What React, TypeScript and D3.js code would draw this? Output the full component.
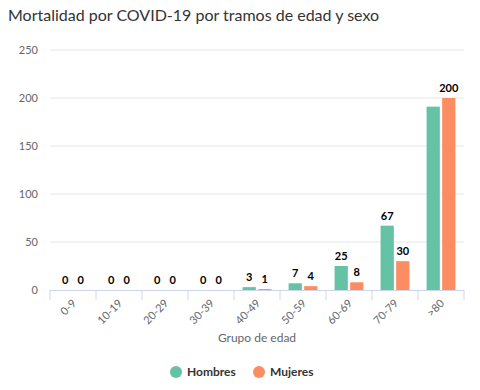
import React from "react";
import * as d3 from "d3";

const categories = ["0-9", "10-19", "20-29", "30-39", "40-49", "50-59", "60-69", "70-79", ">80"];
const hombres = [0, 0, 0, 0, 3, 7, 25, 67, 191];
const mujeres = [0, 0, 0, 0, 1, 4, 8, 30, 200];
const hombresLabelShown = [true, true, true, true, true, true, true, true, false];
const yTicks = [0, 50, 100, 150, 200, 250];
const seriesNames = ["Hombres", "Mujeres"];
const colors = ["#66c2a5", "#fc8d62"];

const W = 480, H = 390;
const left = 50, right = 464, top = 50, bottom = 290;

export default function App() {
  const x = d3.scaleBand<string>().domain(categories).range([left, right]).paddingInner(0).paddingOuter(0);
  const x1 = d3.scaleBand<string>().domain(seriesNames).range([0, x.bandwidth()]).paddingInner(0.15).paddingOuter(0.55);
  const y = d3.scaleLinear().domain([0, 250]).range([bottom, top]);
  const font = "Lato, 'Open Sans', sans-serif";
  const series = [hombres, mujeres];
  return (
    <svg width={W} height={H} style={{ position: "absolute", left: 0, top: 0, background: "#fff" }} fontFamily={font}>
      <rect width={W} height={H} fill="#fff" />
      <text x={8} y={21} fontSize={16} fill="#333">Mortalidad por COVID-19 por tramos de edad y sexo</text>
      {yTicks.map((t) => (
        <g key={t}>
          {t > 0 && <line x1={left} x2={right} y1={y(t)} y2={y(t)} stroke="#e6e6e6" />}
          <text x={38} y={y(t) + 4} textAnchor="end" fontSize={11} fill="#666">{t}</text>
        </g>
      ))}
      <line x1={left} x2={right} y1={bottom + 0.5} y2={bottom + 0.5} stroke="#ccd6eb" />
      {d3.range(categories.length + 1).map((i) => {
        const xx = left + i * x.bandwidth();
        return <line key={i} x1={xx} x2={xx} y1={bottom} y2={bottom + 10} stroke="#ccd6eb" />;
      })}
      {series.map((vals, si) =>
        vals.map((v, i) => {
          const bx = (x(categories[i]) as number) + (x1(seriesNames[si]) as number);
          return (
            <rect key={si + "-" + i} x={bx} y={y(v)} width={x1.bandwidth()} height={bottom - y(v)} fill={colors[si]} />
          );
        })
      )}
      {series.map((vals, si) =>
        vals.map((v, i) => {
          if (si === 0 && !hombresLabelShown[i]) return null;
          const bx = (x(categories[i]) as number) + (x1(seriesNames[si]) as number) + x1.bandwidth() / 2;
          return (
            <text key={"l" + si + "-" + i} x={bx} y={y(v) - 6} textAnchor="middle" fontSize={11} fontWeight="bold" fill="#000"
              stroke="#fff" strokeWidth={2} paintOrder="stroke">{v}</text>
          );
        })
      )}
      {categories.map((c) => {
        const cx = (x(c) as number) + x.bandwidth() / 2 + 4;
        return (
          <text key={c} transform={`translate(${cx},${bottom + 14}) rotate(-45)`} textAnchor="end" fontSize={11} fill="#666">{c}</text>
        );
      })}
      <text x={(left + right) / 2} y={342} textAnchor="middle" fontSize={12} fill="#666">Grupo de edad</text>
      <g>
        <circle cx={176} cy={372} r={6} fill={colors[0]} />
        <text x={187} y={376} fontSize={12} fontWeight="bold" fill="#333">Hombres</text>
        <circle cx={259} cy={372} r={6} fill={colors[1]} />
        <text x={270} y={376} fontSize={12} fontWeight="bold" fill="#333">Mujeres</text>
      </g>
    </svg>
  );
}
